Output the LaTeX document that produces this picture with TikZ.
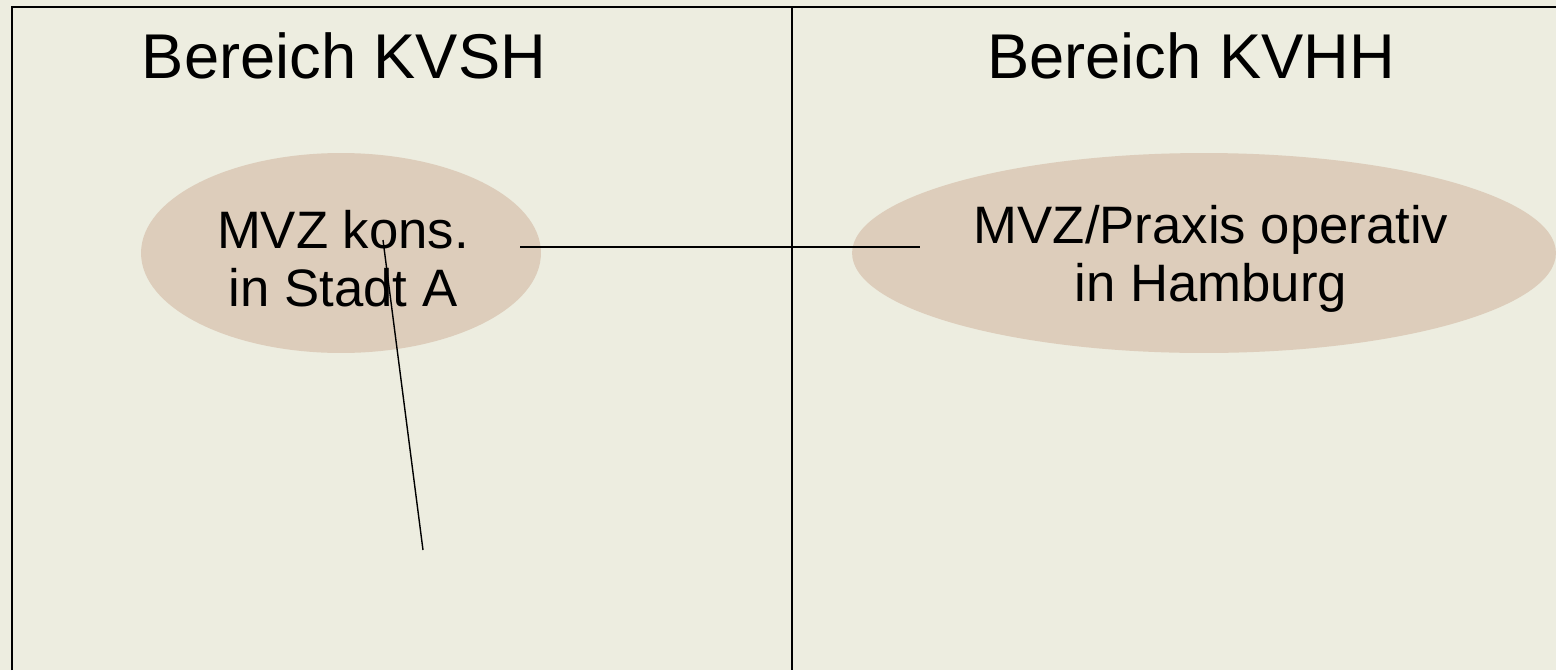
\documentclass[tikz,border=0pt]{standalone}
\usepackage{fontspec}
\setmainfont{Liberation Sans}
\usepackage{tikz}
\usetikzlibrary{shapes,calc}

\definecolor{paper}{RGB}{237,237,224}
\definecolor{oval}{RGB}{221,205,187}

\begin{document}
\begin{tikzpicture}[x=0.02cm,y=-0.02cm,
area title/.style={font=\fontsize{36}{43}\selectfont},
site/.style={ellipse,fill=oval,inner sep=0pt,align=center,
  font=\fontsize{30}{33}\selectfont},
frame line/.style={line width=1.6pt},
link/.style={line width=0.8pt}]
% background
\fill[paper] (0,0) rectangle (1556,670);
\useasboundingbox (0,0) rectangle (1556,670);
% areas
\draw[frame line] (12,670) -- (12,7) -- (1556,7);
\draw[frame line] (792,7) -- (792,670);
\node[area title] (kvsh) at (344,56) {Bereich KVSH};
\node[area title] (kvhh) at (1191,56) {Bereich KVHH};
% sites
\node[site,minimum width=8cm,minimum height=4cm] (stadt) at (341,253) {};
\node[align=center,font=\fontsize{30}{33}\selectfont] (stadttext) at (343,259) {MVZ kons.\\in Stadt A};
\node[site,minimum width=14.08cm,minimum height=4cm] (hamburg) at (1204,253) {};
\node[align=center,font=\fontsize{30}{33}\selectfont] (hamburgtext) at (1211,259) {MVZ/Praxis operativ\\in Hamburg};
% connectors
\coordinate (a) at (520,247);
\coordinate (b) at (920,247);
\coordinate (c) at (383,240);
\coordinate (d) at (423,550);
\draw[link] (a) -- (b);
\draw[link] (c) -- (d);
\end{tikzpicture}
\end{document}
